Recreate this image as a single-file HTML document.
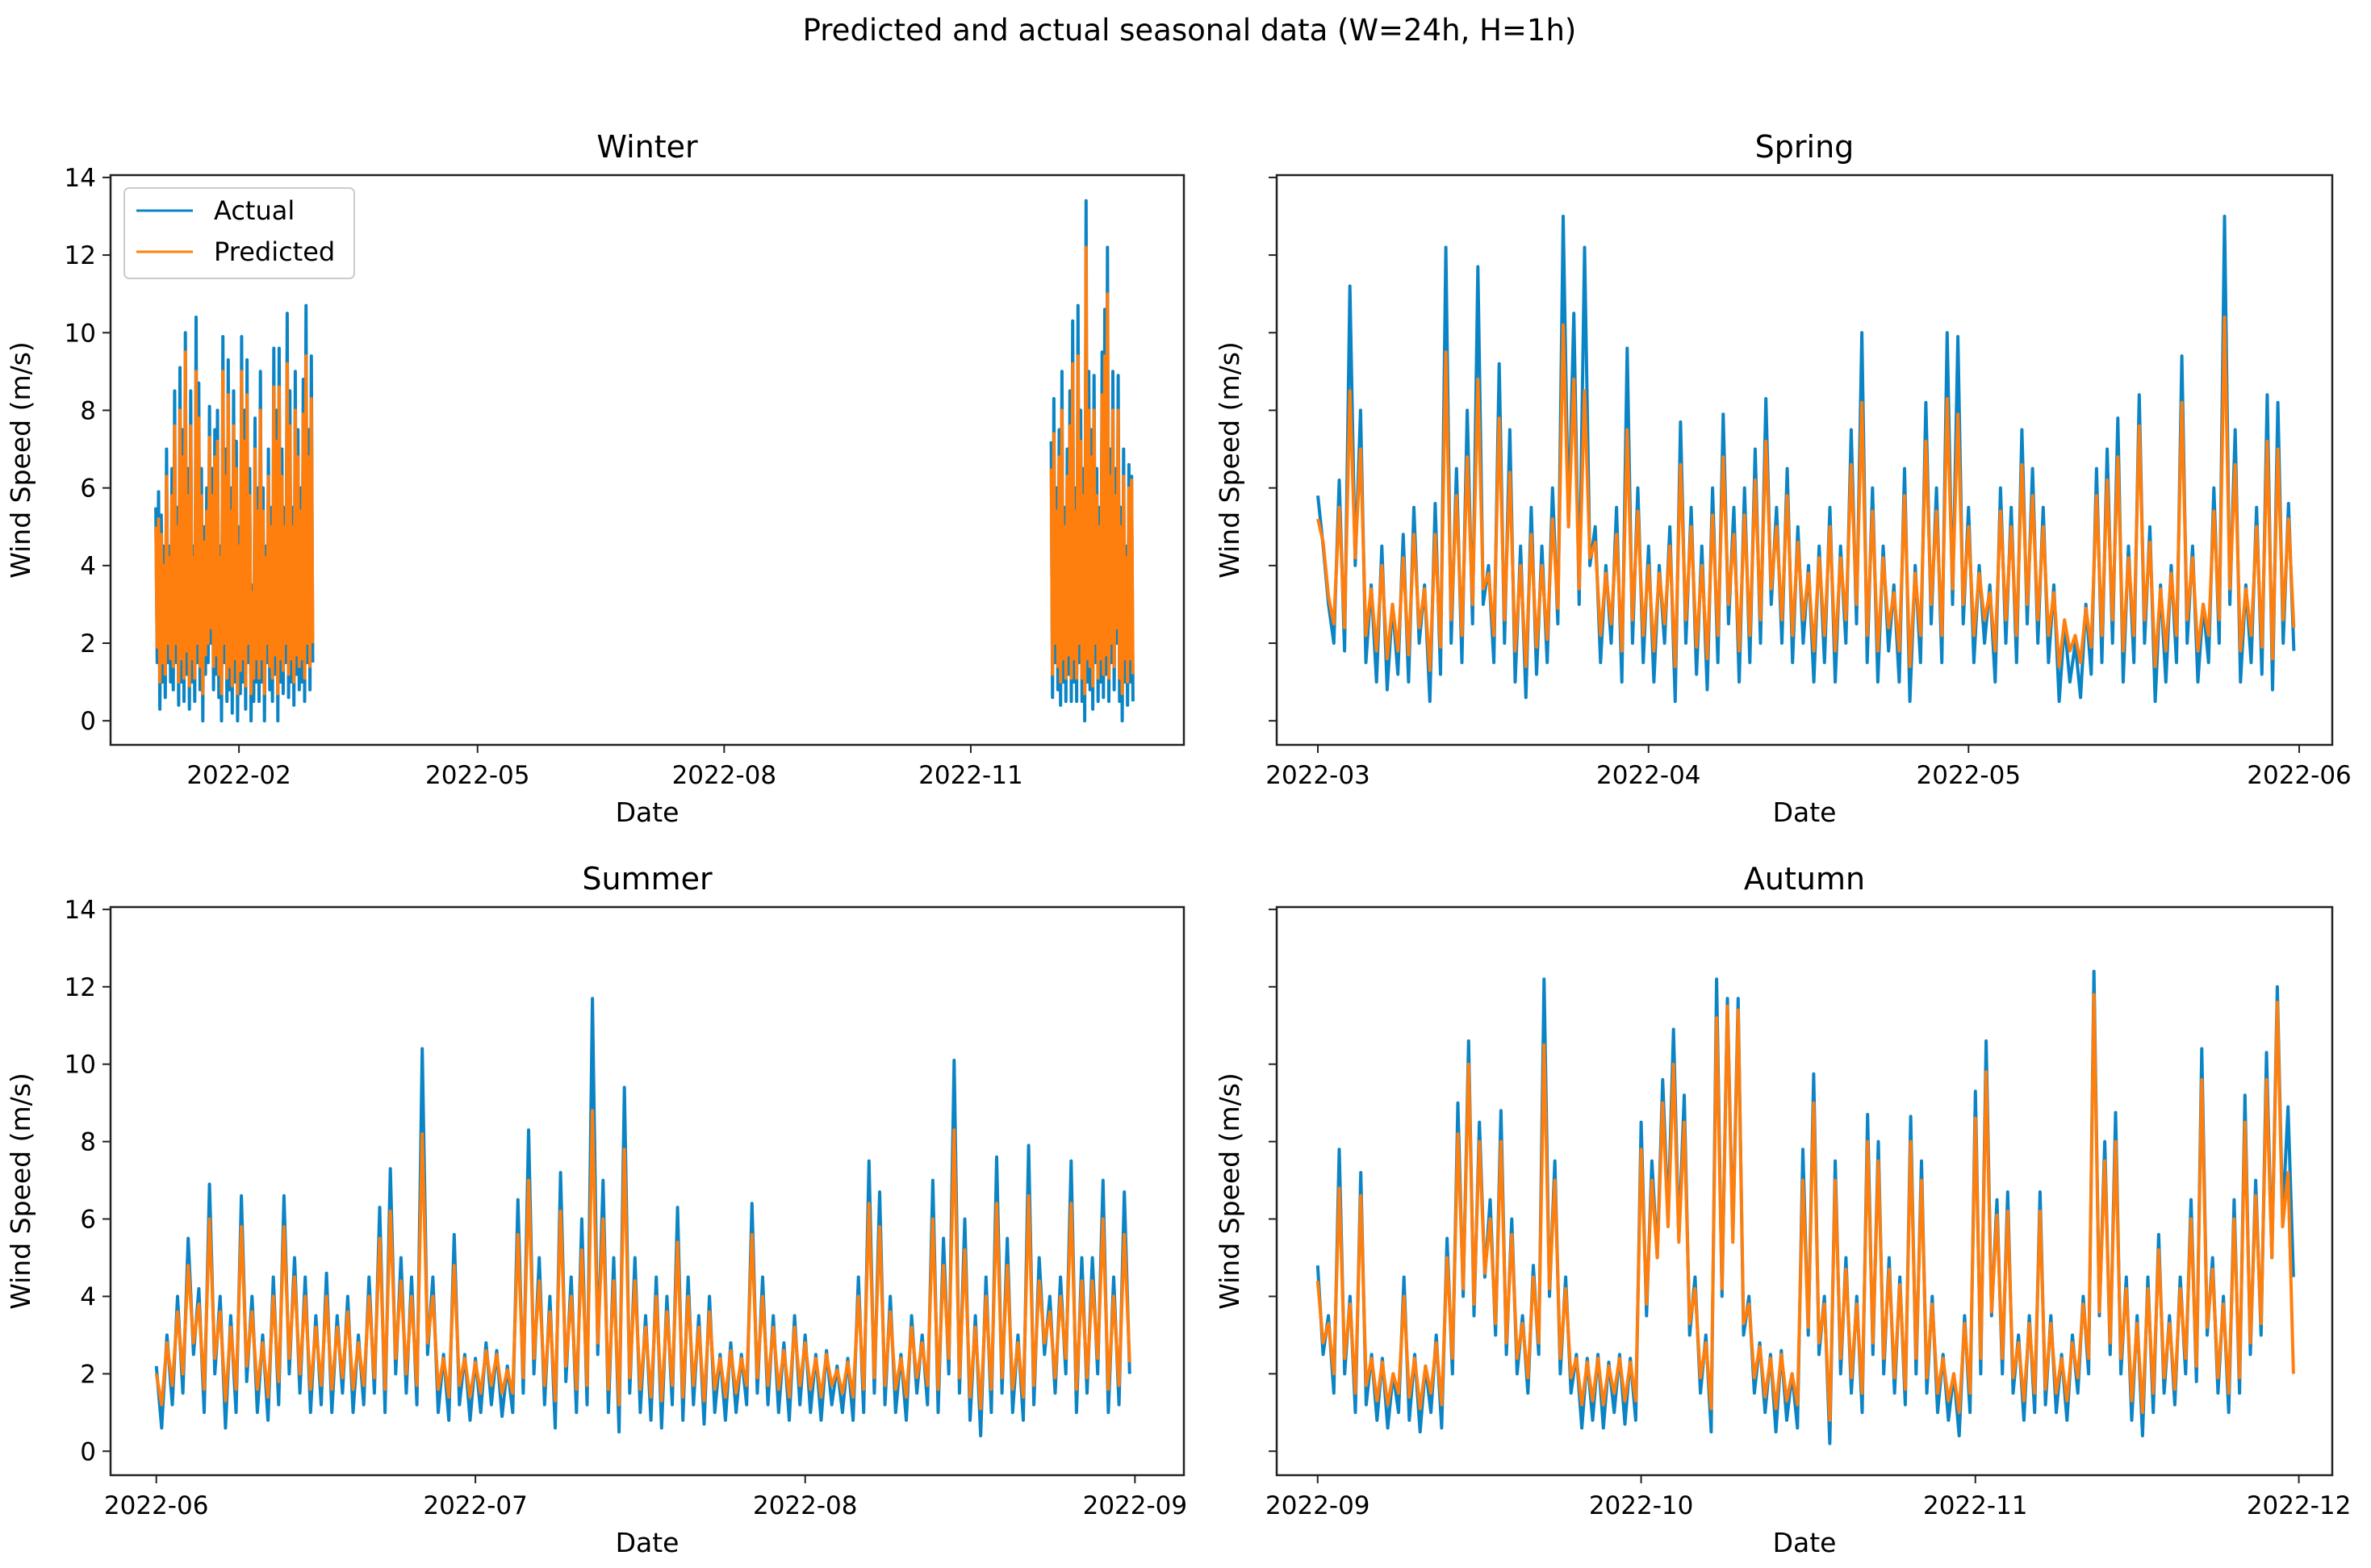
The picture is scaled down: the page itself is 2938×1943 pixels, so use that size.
<!DOCTYPE html>
<html><head><meta charset="utf-8">
<style>
html,body{margin:0;padding:0;background:#fff;}
svg{display:block;font-family:"DejaVu Sans","Liberation Sans",sans-serif;}
</style></head>
<body>
<svg id="fig" width="2938" height="1943" viewBox="0 0 2938 1943" xmlns="http://www.w3.org/2000/svg">
<rect width="2938" height="1943" fill="#fff"/>
<text x="1474" y="50" font-size="37" text-anchor="middle" fill="#000">Predicted and actual seasonal data (W=24h, H=1h)</text>
</svg>
<script>
// values every 12 hours
const winterJanFebActual=[5.5,1.5,5.9,0.3,5.3,1.0,4.5,0.6,7.0,1.5,4.5,1.0,6.5,0.8,8.5,1.5,5.5,0.4,9.1,1.0,7.5,0.5,10.0,1.2,6.5,0.3,8.5,1.0,4.5,0.5,10.4,1.5,8.7,0.8,6.5,0.0,5.0,1.2,6.0,1.5,8.1,2.0,6.5,0.8,7.5,1.2,8.0,0.6,4.5,0.0,9.9,1.5,7.0,0.5,9.3,0.8,6.0,0.2,8.5,1.0,7.2,0.0,
5.0,0.7,9.9,1.0,8.0,0.3,9.3,1.5,6.5,0.0,3.5,0.5,7.8,1.0,6.0,0.5,9.0,1.0,6.0,0.0,4.5,1.5,7.0,0.8,5.5,0.5,9.6,1.2,8.0,0.0,9.6,1.0,7.0,0.7,5.5,1.5,10.5,0.6,8.5,1.0,5.5,0.4,9.0,1.2,7.5,0.8,6.0,1.0,8.8,0.5,10.7,1.5,7.5,0.8,9.4,1.5];
const winterJanFebPredicted=[5.0,1.9,5.2,1.0,4.8,1.5,4.0,1.2,6.3,2.0,4.2,1.6,5.8,1.4,7.6,2.0,5.0,1.0,8.0,1.6,6.8,1.1,9.5,1.8,5.8,0.9,7.6,1.6,4.2,1.1,9.0,2.0,7.8,1.4,5.8,0.7,4.6,1.7,5.4,2.0,7.3,2.4,5.8,1.4,6.8,1.7,7.2,1.2,4.2,0.7,9.0,2.0,6.3,1.1,8.4,1.4,5.4,0.9,7.6,1.6,6.5,0.7,
4.5,1.3,9.0,1.6,7.2,0.9,8.4,2.0,5.8,0.7,3.3,1.1,7.0,1.6,5.4,1.1,8.0,1.6,5.4,0.7,4.2,2.0,6.3,1.4,5.0,1.1,8.6,1.7,7.2,0.7,8.6,1.6,6.3,1.3,5.0,2.0,9.2,1.2,7.6,1.6,5.0,1.0,8.0,1.7,6.8,1.4,5.4,1.6,7.9,1.1,9.4,2.0,6.8,1.4,8.3,2.0];
const winterDecActual=[7.2,0.6,8.3,1.5,6.0,0.8,7.5,0.4,9.0,1.0,5.5,0.5,7.0,1.2,8.5,0.5,10.3,1.0,6.0,0.5,10.7,1.5,8.0,0.5,6.5,0.0,13.4,1.0,9.0,0.8,7.5,0.3,8.9,1.5,6.5,0.5,5.5,1.0,9.5,0.6,10.6,1.2,12.2,0.5,7.0,1.5,9.0,0.8,6.5,2.0,8.9,0.5,5.5,0.0,7.0,1.0,4.5,0.4,6.6,1.0,6.3,0.5];
const winterDecPredicted=[6.5,1.2,7.4,2.0,5.4,1.4,6.8,1.0,8.0,1.6,5.0,1.1,6.3,1.7,7.6,1.1,9.2,1.6,5.4,1.1,9.4,2.0,7.2,1.1,5.8,0.7,12.2,1.6,8.0,1.4,6.8,0.9,8.0,2.0,5.8,1.1,5.0,1.6,8.4,1.2,9.4,1.7,11.0,1.1,6.3,2.0,8.0,1.4,5.8,2.4,8.0,1.1,5.0,0.7,6.3,1.6,4.2,1.0,6.0,1.6,6.2,1.2];
const springActual=[5.8,4.5,3.0,2.0,6.2,1.8,11.2,4.0,8.0,1.5,3.5,1.0,4.5,0.8,3.0,1.2,4.8,1.0,5.5,2.0,3.5,0.5,5.6,1.2,12.2,2.0,6.5,1.5,8.0,2.5,11.7,3.0,4.0,1.5,9.2,2.0,7.5,1.0,4.5,0.6,5.5,1.2,4.5,1.5,6.0,2.5,13.0,5.0,10.5,3.0,12.2,4.0,5.0,1.5,4.0,2.0,5.5,1.0,9.6,2.0,6.0,1.5,4.5,1.0,4.0,2.0,5.0,0.5,7.7,2.0,5.5,1.2,4.5,0.8,6.0,1.5,7.9,2.5,5.5,1.0,6.0,1.5,7.0,2.0,8.3,3.0,5.5,2.0,6.5,1.5,5.0,2.0,4.0,1.0,4.5,1.5,5.5,1.0,4.5,2.0,7.5,2.5,10.0,1.5,6.0,1.0,4.5,1.8,3.5,1.0,6.5,0.5,4.0,1.5,8.2,2.5,6.0,1.5,10.0,3.0,9.9,2.5,5.5,1.5,4.0,2.0,3.5,1.0,6.0,2.0,5.5,1.5,7.5,2.5,6.5,2.0,5.5,1.5,3.5,0.5,2.5,1.0,2.0,0.6,3.0,1.2,6.5,1.5,7.0,2.0,7.8,1.0,4.5,1.5,8.4,2.0,5.0,0.5,3.5,1.0,4.0,1.5,9.4,2.0,4.5,1.0,3.0,1.5,6.0,2.0,13.0,3.0,7.5,1.0,3.5,1.5,5.5,1.2,8.4,0.8,8.2,2.0,5.6,1.8];
const springPredicted=[5.2,4.6,3.2,2.5,5.5,2.4,8.5,4.2,7.0,2.2,3.4,1.8,4.0,1.6,3.0,1.8,4.2,1.7,4.8,2.4,3.4,1.3,4.8,1.9,9.5,2.6,5.8,2.2,6.8,3.0,8.8,3.4,3.8,2.2,7.8,2.6,6.4,1.8,4.0,1.4,4.8,1.9,4.0,2.1,5.2,2.9,10.2,5.0,8.8,3.4,8.5,4.2,4.6,2.2,3.8,2.5,4.8,1.8,7.5,2.6,5.4,2.2,4.0,1.8,3.8,2.5,4.5,1.4,6.6,2.6,5.0,1.9,4.0,1.6,5.3,2.2,6.8,3.0,4.8,1.8,5.3,2.2,6.2,2.6,7.2,3.4,5.0,2.6,5.8,2.2,4.6,2.6,3.8,1.8,4.2,2.2,5.0,1.8,4.2,2.6,6.6,3.0,8.2,2.2,5.4,1.8,4.2,2.4,3.3,1.8,5.8,1.4,3.8,2.2,7.2,3.0,5.4,2.2,8.3,3.4,7.9,3.0,5.0,2.2,3.8,2.6,3.3,1.8,5.4,2.6,5.0,2.2,6.6,3.0,5.8,2.6,5.0,2.2,3.3,1.4,2.6,1.8,2.2,1.5,2.9,1.9,5.8,2.2,6.2,2.6,6.8,1.8,4.2,2.2,7.6,2.6,4.6,1.4,3.4,1.8,3.8,2.2,8.2,2.6,4.2,1.8,3.0,2.2,5.4,2.6,10.4,3.4,6.6,1.8,3.4,2.2,5.0,1.9,7.2,1.6,7.0,2.6,5.2,2.4];
const summerActual=[2.2,0.6,3.0,1.2,4.0,1.5,5.5,2.5,4.2,1.0,6.9,2.0,4.0,0.6,3.5,1.0,6.6,1.8,4.0,1.0,3.0,0.8,4.5,1.2,6.6,2.0,5.0,1.5,4.5,1.0,3.5,1.2,4.6,1.0,3.5,1.5,4.0,1.0,3.0,1.2,4.5,1.5,6.3,1.0,7.3,2.0,5.0,1.5,4.5,1.2,10.4,2.5,4.5,1.0,2.5,0.8,5.6,1.2,2.5,0.8,2.4,1.0,2.8,1.2,2.6,0.9,2.2,1.0,6.5,1.5,8.3,2.0,5.0,1.2,4.0,0.6,7.2,1.8,4.5,1.0,6.0,1.2,11.7,2.5,7.0,1.0,5.0,0.5,9.4,1.5,5.0,1.0,3.5,0.8,4.5,0.6,4.0,1.2,6.3,0.8,4.5,1.2,3.5,0.7,4.0,1.0,2.5,0.8,2.8,1.0,2.5,1.2,6.4,1.5,4.5,1.2,3.5,1.0,2.8,0.8,3.5,1.2,3.0,1.0,2.5,0.8,2.6,1.2,2.2,1.0,2.4,0.8,4.5,1.0,7.5,1.5,6.7,1.2,4.0,1.0,2.5,0.8,3.5,1.5,3.0,1.2,7.0,1.0,5.5,2.0,10.1,1.5,6.0,0.8,3.5,0.4,4.5,1.0,7.6,1.5,5.5,1.0,3.0,0.8,7.9,1.2,5.0,2.5,4.0,1.5,4.5,2.0,7.5,1.0,5.0,1.5,5.0,2.0,7.0,1.0,4.5,1.2,6.7,2.0];
const summerPredicted=[2.0,1.2,2.8,1.7,3.6,2.0,4.8,2.8,3.8,1.6,6.0,2.4,3.6,1.3,3.2,1.6,5.8,2.2,3.6,1.6,2.8,1.4,4.0,1.8,5.8,2.4,4.5,2.0,4.0,1.6,3.2,1.7,4.0,1.6,3.2,1.9,3.6,1.6,2.8,1.7,4.0,1.9,5.5,1.6,6.2,2.4,4.4,2.0,4.0,1.7,8.2,2.8,4.0,1.6,2.4,1.4,4.8,1.7,2.4,1.4,2.3,1.5,2.6,1.7,2.5,1.5,2.1,1.5,5.6,1.9,7.0,2.4,4.4,1.7,3.6,1.3,6.2,2.2,4.0,1.6,5.2,1.7,8.8,2.8,6.0,1.6,4.4,1.2,7.8,1.9,4.4,1.6,3.2,1.4,4.0,1.3,3.6,1.7,5.4,1.4,4.0,1.7,3.2,1.3,3.6,1.6,2.4,1.4,2.6,1.5,2.4,1.7,5.6,1.9,4.0,1.7,3.2,1.6,2.6,1.4,3.2,1.7,2.8,1.6,2.4,1.4,2.5,1.7,2.1,1.5,2.3,1.4,4.0,1.6,6.4,1.9,5.8,1.7,3.6,1.6,2.4,1.4,3.2,1.9,2.8,1.7,6.0,1.6,4.8,2.4,8.3,1.9,5.2,1.4,3.2,1.1,4.0,1.6,6.4,1.9,4.8,1.6,2.8,1.4,6.6,1.7,4.4,2.8,3.6,1.9,4.0,2.4,6.4,1.6,4.4,1.9,4.4,2.4,6.0,1.6,4.0,1.7,5.6,2.3];
const autumnActual=[4.8,2.5,3.5,1.5,7.8,2.0,4.0,1.0,7.2,1.2,2.5,0.8,2.4,0.6,2.0,1.0,4.5,0.8,2.5,0.5,2.2,1.0,3.0,0.6,5.5,2.0,9.0,4.0,10.6,3.5,8.5,4.5,6.5,3.0,8.8,2.5,6.0,2.0,3.5,1.5,4.8,2.5,12.2,4.0,7.5,2.0,4.5,1.5,2.5,0.6,2.4,0.8,2.5,0.6,2.3,1.0,2.5,0.7,2.4,0.8,8.5,3.5,7.5,5.0,9.6,6.0,10.9,5.5,9.2,3.0,4.5,1.5,3.0,0.5,12.2,4.0,11.7,5.5,11.7,3.0,4.0,1.5,2.8,1.0,2.5,0.5,2.6,0.8,2.0,0.6,7.8,3.0,9.75,2.5,4.0,0.2,7.5,2.0,5.0,1.5,4.0,1.0,8.7,2.5,8.0,2.0,5.0,1.5,4.5,1.2,8.65,2.0,7.5,1.5,4.0,1.0,2.5,0.8,2.0,0.4,3.5,1.0,9.3,2.0,10.6,3.5,6.5,2.0,6.7,1.5,3.0,0.8,3.5,1.0,6.7,1.2,3.5,1.0,2.5,0.8,3.0,1.5,4.0,2.0,12.4,3.5,8.0,2.5,8.75,2.0,4.5,0.8,3.5,0.4,4.5,1.0,5.6,1.5,3.5,1.2,4.5,2.0,6.5,1.8,10.4,3.0,5.0,1.5,4.0,1.0,6.5,1.5,9.2,2.5,7.0,3.0,10.3,5.0,12.0,6.0,8.9,4.5];
const autumnPredicted=[4.4,2.8,3.3,2.0,6.8,2.4,3.8,1.5,6.6,1.7,2.4,1.3,2.3,1.2,2.0,1.5,4.0,1.4,2.4,1.1,2.2,1.5,2.8,1.2,5.0,2.4,8.2,4.2,10.0,3.8,8.0,4.6,6.0,3.3,8.0,2.8,5.6,2.4,3.3,1.9,4.5,2.8,10.5,4.2,7.0,2.4,4.2,1.9,2.4,1.2,2.3,1.3,2.4,1.2,2.2,1.5,2.4,1.3,2.3,1.3,7.8,3.8,7.0,5.0,9.0,5.8,10.0,5.4,8.5,3.3,4.2,1.9,2.8,1.1,11.2,4.2,11.5,5.4,11.4,3.3,3.8,1.9,2.7,1.4,2.4,1.1,2.5,1.3,2.0,1.2,7.0,3.2,9.0,2.8,3.8,0.8,7.0,2.4,4.7,1.9,3.8,1.5,8.0,2.8,7.5,2.4,4.7,1.9,4.3,1.6,8.0,2.4,7.0,1.9,3.8,1.5,2.4,1.3,2.0,1.0,3.3,1.5,8.6,2.4,9.8,3.6,6.1,2.4,6.2,1.9,2.8,1.3,3.3,1.5,6.2,1.6,3.3,1.5,2.4,1.3,2.8,1.9,3.8,2.4,11.8,3.6,7.5,2.8,8.0,2.4,4.2,1.3,3.3,1.0,4.2,1.5,5.2,1.9,3.3,1.6,4.2,2.4,6.0,2.2,9.6,3.2,4.7,1.9,3.8,1.5,6.0,1.9,8.5,2.8,6.6,3.3,9.6,5.0,11.6,5.8,7.2,2.0];
const yTicks=[0,2,4,6,8,10,12,14];
const winterTickLabels=["2022-02","2022-05","2022-08","2022-11"];
const springTickLabels=["2022-03","2022-04","2022-05","2022-06"];
const summerTickLabels=["2022-06","2022-07","2022-08","2022-09"];
const autumnTickLabels=["2022-09","2022-10","2022-11","2022-12"];
const winterTickDays=[31,120,212,304];
const springTickDays=[0,31,61,92];
const summerTickDays=[0,30,61,92];
const autumnTickDays=[0,30,61,91];

const NS="http://www.w3.org/2000/svg";
const svg=document.getElementById('fig');
const BLUE="#0b84c5", ORANGE="#ff7f0e";
function mk(tag,attrs,parent){const e=document.createElementNS(NS,tag);for(const k in attrs)e.setAttribute(k,attrs[k]);(parent||svg).appendChild(e);return e;}

function panel(cfg){
  const {L,R,T,B,x0,x1,title,name,showY}=cfg;
  const yMin=-0.62,yMax=14.06;
  const sx=d=>L+(d-x0)/(x1-x0)*(R-L);
  const sy=v=>B-(v-yMin)/(yMax-yMin)*(B-T);
  const g=mk('g',{});
  
  
  const t=mk('text',{x:(L+R)/2,y:T-22,'font-size':38,'text-anchor':'middle'},g);
  t.textContent=title;
  
  
  cfg.series.forEach(s=>{
    const pts=s.values.map((v,i)=>sx(s.start+i*0.5).toFixed(1)+','+sy(v).toFixed(1)).join(' ');
    const pl=mk('polyline',{points:pts,fill:'none',stroke:s.color,'stroke-width':4,'stroke-linejoin':'round'},g);
    
    
  });
  const fr=mk('rect',{x:L,y:T,width:R-L,height:B-T,fill:'none',stroke:'#222','stroke-width':2.5},g);
  
  
  yTicks.forEach(v=>{
    const y=sy(v);
    const tk=mk('line',{x1:L-10,x2:L,y1:y,y2:y,stroke:'#222','stroke-width':2},g);
    
    
    if(showY){
      const tl=mk('text',{x:L-18,y:y+11,'font-size':31,'text-anchor':'end'},g);
      tl.textContent=v;
      
      
    }
  });
  cfg.tickDays.forEach((d,i)=>{
    const x=sx(d);
    const tk=mk('line',{x1:x,x2:x,y1:B,y2:B+10,stroke:'#222','stroke-width':2},g);
    
    
    const tl=mk('text',{x:x,y:B+48,'font-size':31,'text-anchor':'middle'},g);
    tl.textContent=cfg.tickLabels[i];
    
    
  });
  const xt=mk('text',{x:(L+R)/2,y:B+95,'font-size':33,'text-anchor':'middle'},g);
  xt.textContent='Date';
  
  
  const ly=(T+B)/2;
  const off=showY?100:47;
  const yt=mk('text',{x:0,y:0,'font-size':33,'text-anchor':'middle',transform:`translate(${L-off},${ly}) rotate(-90)`},g);
  yt.textContent='Wind Speed (m/s)';
  
  
}

panel({name:'winter',title:'Winter',L:137,R:1467,T:217,B:923,x0:-16.9,x1:383.5,showY:true,
  tickDays:winterTickDays,tickLabels:winterTickLabels,
  series:[{name:'winter-actual-jan-feb',values:winterJanFebActual,start:0,color:BLUE},
          {name:'winter-actual-dec',values:winterDecActual,start:334,color:BLUE},
          {name:'winter-predicted-jan-feb',values:winterJanFebPredicted,start:0,color:ORANGE},
          {name:'winter-predicted-dec',values:winterDecPredicted,start:334,color:ORANGE}]});
panel({name:'spring',title:'Spring',L:1582,R:2890,T:217,B:923,x0:-3.86,x1:95.1,showY:false,
  tickDays:springTickDays,tickLabels:springTickLabels,
  series:[{name:'spring-actual-line',values:springActual,start:0,color:BLUE},
          {name:'spring-predicted-line',values:springPredicted,start:0,color:ORANGE}]});
panel({name:'summer',title:'Summer',L:137,R:1467,T:1124,B:1828,x0:-4.3,x1:96.6,showY:true,
  tickDays:summerTickDays,tickLabels:summerTickLabels,
  series:[{name:'summer-actual-line',values:summerActual,start:0,color:BLUE},
          {name:'summer-predicted-line',values:summerPredicted,start:0,color:ORANGE}]});
panel({name:'autumn',title:'Autumn',L:1582,R:2890,T:1124,B:1828,x0:-3.8,x1:94.1,showY:false,
  tickDays:autumnTickDays,tickLabels:autumnTickLabels,
  series:[{name:'autumn-actual-line',values:autumnActual,start:0,color:BLUE},
          {name:'autumn-predicted-line',values:autumnPredicted,start:0,color:ORANGE}]});

const lg=mk('g',{});


const lb=mk('rect',{x:154,y:233,width:285,height:112,rx:6,fill:'#fff',stroke:'#ccc','stroke-width':2},lg);


[['Actual',BLUE,261],['Predicted',ORANGE,312]].forEach(e=>{
  const ln=mk('line',{x1:169,x2:239,y1:e[2],y2:e[2],stroke:e[1],'stroke-width':3},lg);
  
  
  const tx=mk('text',{x:265,y:e[2]+11,'font-size':32},lg);
  tx.textContent=e[0];
  
  
});
</script>
</body></html>
